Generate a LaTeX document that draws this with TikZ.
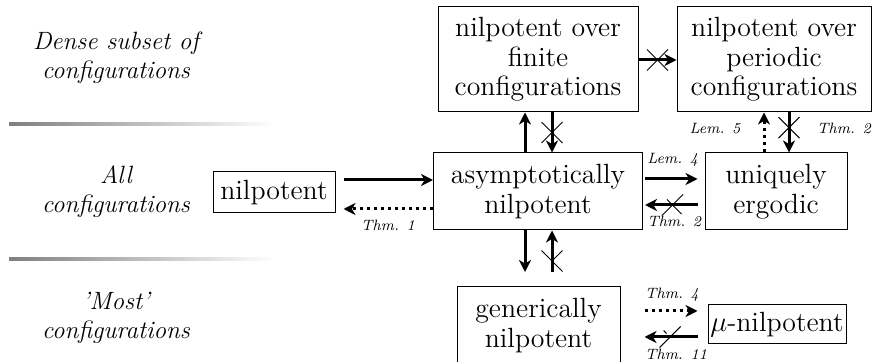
\documentclass[tikz,border=0pt]{standalone}
\usetikzlibrary{arrows.meta,shapes.misc}
\begin{document}
\begin{tikzpicture}[x=0.5pt,y=-0.5pt,
  box/.style={draw, line width=0.5pt, align=center, inner sep=0pt, font=\fontsize{13.9}{14.85}\selectfont},
  lab/.style={align=center, inner sep=0pt, font=\fontsize{12.5}{14.5}\selectfont\itshape},
  refl/.style={font=\fontsize{7.5}{8}\selectfont\itshape, inner sep=0pt},
  arr/.style={line width=1.5pt, -{Stealth[length=6pt,width=6pt,inset=1.8pt]}},
  darr/.style={arr, dash pattern=on 1.5pt off 2pt},
  xmark/.style={draw, cross out, sloped, line width=0.5pt, minimum width=10pt, minimum height=10pt, inner sep=0pt}
]
\useasboundingbox (0,0) rectangle (872,362);

% gradient separators
\shade[left color=black!50, right color=white] (9,123) rectangle (275,126);
\shade[left color=black!50, right color=white] (9,258) rectangle (275,261);

% row labels
\node[lab] (l1) at (116,57.5) {Dense subset of\\configurations};
\node[lab] (l2) at (116,191.5) {All\\configurations};
\node[lab] (l3) at (116,318) {'Most'\\configurations};

% boxes
\node[box, minimum width=100pt, minimum height=52.5pt] (fin) at (538,59.5) {nilpotent over\\finite\\configurations};
\node[box, minimum width=97pt, minimum height=52.5pt] (per) at (774,59.5) {nilpotent over\\periodic\\configurations};
\node[box, minimum width=104.5pt, minimum height=38.5pt] (asy) at (538,191.5) {asymptotically\\nilpotent};
\node[box, minimum width=71pt, minimum height=38.5pt] (uni) at (776,191.5) {uniquely\\ergodic};
\node[box, minimum width=61pt, minimum height=20.5pt] (nil) at (274,192.5) {nilpotent};
\node[box, minimum width=81.5pt, minimum height=39pt] (gen) at (538.5,325.5) {generically\\nilpotent};
\node[box, minimum width=69pt, minimum height=19.5pt] (mu) at (777,324.5) {$\mu$-nilpotent};

% guide coordinates
\coordinate (vA) at (525,0);
\coordinate (vB) at (552,0);
\coordinate (vC) at (764,0);
\coordinate (vD) at (789,0);
\coordinate (hA) at (0,180);
\coordinate (hB) at (0,209);
\coordinate (hC) at (0,179);
\coordinate (hD) at (0,205);
\coordinate (hE) at (0,60);
\coordinate (hF) at (0,311);
\coordinate (hG) at (0,337);

% nil <-> asy
\draw[arr, shorten <=4pt] (nil.east |- hA) -- (asy.west |- hA);
\draw[darr, shorten >=4pt] (asy.west |- hB) -- (nil.east |- hB);
\node[refl] (t1) at (388,225) {Thm. 1};

% asy <-> uni
\draw[arr, shorten <=1pt, shorten >=3.5pt] (asy.east |- hC) -- (uni.west |- hC);
\draw[arr, shorten <=3.5pt, shorten >=1pt] (uni.west |- hD) -- node[xmark, pos=0.52]{} (asy.east |- hD);
\node[refl, anchor=west] (l4) at (647,160) {Lem. 4};
\node[refl, anchor=west] (t2a) at (647,221) {Thm. 2};

% fin -> per
\draw[arr] (fin.east |- hE) -- node[xmark]{} (per.west |- hE);

% asy <-> fin
\draw[arr] (asy.north -| vA) -- (fin.south -| vA);
\draw[arr] (fin.south -| vB) -- node[xmark]{} (asy.north -| vB);

% uni <-> per
\draw[darr] (uni.north -| vC) -- (per.south -| vC);
\draw[arr] (per.south -| vD) -- node[xmark, pos=0.38]{} (uni.north -| vD);
\node[refl] (l5) at (715,129) {Lem. 5};
\node[refl] (t2b) at (844,128) {Thm. 2};

% asy <-> gen
\draw[arr, shorten >=7pt] (asy.south -| vA) -- (gen.north -| vA);
\draw[arr, shorten <=7pt] (gen.north -| vB) -- node[xmark, pos=0.45]{} (asy.south -| vB);

% gen <-> mu
\draw[darr, shorten <=12pt, shorten >=5pt] (gen.east |- hF) -- (mu.west |- hF);
\draw[arr, shorten <=5pt, shorten >=12pt] (mu.west |- hG) -- node[xmark, pos=0.43]{} (gen.east |- hG);
\node[refl] (t4) at (672,295) {Thm. 4};
\node[refl] (t11) at (676,354) {Thm. 11};
\end{tikzpicture}
\end{document}
